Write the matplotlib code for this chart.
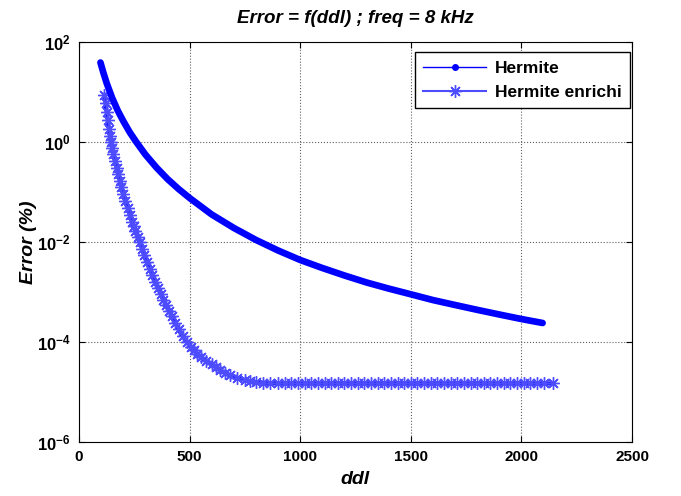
import matplotlib
matplotlib.use("Agg")
import matplotlib.pyplot as plt
from matplotlib.lines import Line2D

plt.rcParams['font.family'] = ['Liberation Sans', 'DejaVu Sans']
plt.rcParams['mathtext.fontset'] = 'custom'
plt.rcParams['mathtext.rm'] = 'Liberation Sans:bold'
plt.rcParams['mathtext.bf'] = 'Liberation Sans:bold'

# Hermite
ddl_hermite = [97, 110, 125, 150, 175, 200, 230, 259, 300, 350, 400, 450, 500,
               600, 700, 800, 900, 1000, 1100, 1200, 1300, 1400, 1500, 1600,
               1700, 1800, 1900, 2000, 2096]
err_hermite = [38.9, 24.5, 15.1, 7.59, 4.27, 2.63, 1.55, 1.0, 0.562, 0.309,
               0.182, 0.115, 0.0759, 0.0355, 0.0191, 0.0110, 6.76e-3, 4.37e-3,
               3.02e-3, 2.14e-3, 1.55e-3, 1.17e-3, 9.0e-4, 6.9e-4, 5.5e-4,
               4.4e-4, 3.55e-4, 2.88e-4, 2.40e-4]

# Hermite enrichi
ddl_enrichi = [115, 120, 125, 130, 135, 140, 144, 150, 155, 162, 170, 177, 185,
               192, 200, 210, 220, 230, 239, 247, 255, 265, 274, 285, 295, 307,
               320, 332, 345, 357, 370, 382, 395, 407, 420, 435, 450, 468, 488,
               505, 520, 535, 550, 575, 600, 620, 637, 660, 683, 715, 750, 775,
               800, 830, 864, 900, 930, 960, 990, 1020, 1050, 1080, 1110, 1140,
               1170, 1200, 1230, 1260, 1290, 1320, 1350, 1380, 1410, 1440,
               1470, 1500, 1530, 1560, 1590, 1620, 1650, 1680, 1710, 1740,
               1770, 1800, 1830, 1860, 1890, 1920, 1950, 1980, 2010, 2040,
               2070, 2100, 2143]
err_enrichi = [8.91, 6.0, 3.98, 2.7, 1.86, 1.3, 1.0, 0.76, 0.575, 0.42, 0.302,
               0.225, 0.166, 0.125, 0.0933, 0.066, 0.0479, 0.034, 0.0255,
               0.0205, 0.0164, 0.0128, 0.0100, 7.4e-3, 5.5e-3, 4.0e-3, 2.88e-3,
               2.15e-3, 1.58e-3, 1.2e-3, 9.1e-4, 7.0e-4, 5.4e-4, 4.2e-4, 3.3e-4,
               2.4e-4, 1.78e-4, 1.33e-4, 1.0e-4, 8.1e-5, 6.8e-5, 5.8e-5, 5.0e-5,
               4.2e-5, 3.55e-5, 3.1e-5, 2.75e-5, 2.4e-5, 2.14e-5, 1.92e-5,
               1.74e-5, 1.65e-5, 1.58e-5, 1.54e-5, 1.51e-5, 1.48e-5, 1.48e-5,
               1.48e-5, 1.48e-5, 1.48e-5, 1.48e-5, 1.48e-5, 1.48e-5, 1.48e-5,
               1.48e-5, 1.48e-5, 1.48e-5, 1.48e-5, 1.48e-5, 1.48e-5, 1.48e-5,
               1.48e-5, 1.48e-5, 1.48e-5, 1.48e-5, 1.48e-5, 1.48e-5, 1.48e-5,
               1.48e-5, 1.48e-5, 1.48e-5, 1.48e-5, 1.48e-5, 1.48e-5, 1.48e-5,
               1.48e-5, 1.48e-5, 1.48e-5, 1.48e-5, 1.48e-5, 1.48e-5, 1.48e-5,
               1.48e-5, 1.48e-5, 1.48e-5, 1.48e-5, 1.48e-5]

x_ticks = [0, 500, 1000, 1500, 2000, 2500]
y_exps = [2, 0, -2, -4, -6]

fig = plt.figure(figsize=(6.81, 4.96), dpi=100)
ax = fig.add_axes([79 / 681, 1 - 442 / 496, 553 / 681, 400 / 496])

blue = '#0000ff'
light = '#4d4dff'

ax.plot(ddl_enrichi, err_enrichi, '-', color=blue, lw=3, solid_capstyle='round')
ax.plot(ddl_enrichi, err_enrichi, ls='none', marker=(8, 2, 0), ms=9,
        mec=light, mew=1.0)
ax.plot(ddl_hermite, err_hermite, '-', color=blue, lw=4.8,
        solid_capstyle='round', solid_joinstyle='round')

ax.set_yscale('log')
ax.set_xlim(0, 2500)
ax.set_ylim(1e-6, 1e2)
ax.set_xticks(x_ticks)
ax.set_xticklabels([str(t) for t in x_ticks], fontweight='bold', fontsize=11)
ax.set_yticks([10.0 ** e for e in y_exps])
ax.set_yticklabels([r'$\mathbf{10^{%d}}$' % e for e in y_exps], fontsize=12)
ax.minorticks_off()
ax.tick_params(direction='in', top=True, right=True, length=4, width=0.8,
               pad=6)
ax.grid(True, color='#606060', ls=':', lw=0.8)
for s in ax.spines.values():
    s.set_linewidth(0.8)

ax.set_title('Error = f(ddl) ; freq = 8 kHz', fontsize=13.5, fontweight='bold',
             style='italic', pad=14)
ax.set_xlabel('ddl', fontsize=14, fontweight='bold', style='italic', labelpad=5)
ax.set_ylabel('Error (%)', fontsize=14, fontweight='bold', style='italic',
              labelpad=0)

handles = [
    Line2D([], [], color=blue, lw=1, marker='.', ms=8),
    Line2D([], [], color=light, lw=1.5, marker=(8, 2, 0), ms=9, mew=1.0),
]
leg = ax.legend(handles, ['Hermite', 'Hermite enrichi'], loc='upper right',
                bbox_to_anchor=(0.9964, 0.975), borderaxespad=0,
                prop={'weight': 'bold', 'size': 12.5}, fancybox=False,
                framealpha=1, edgecolor='black', handlelength=3.6,
                handletextpad=0.5, labelspacing=0.5, borderpad=0.5)
leg.get_frame().set_linewidth(1.0)

fig.savefig('out.png', dpi=100)
